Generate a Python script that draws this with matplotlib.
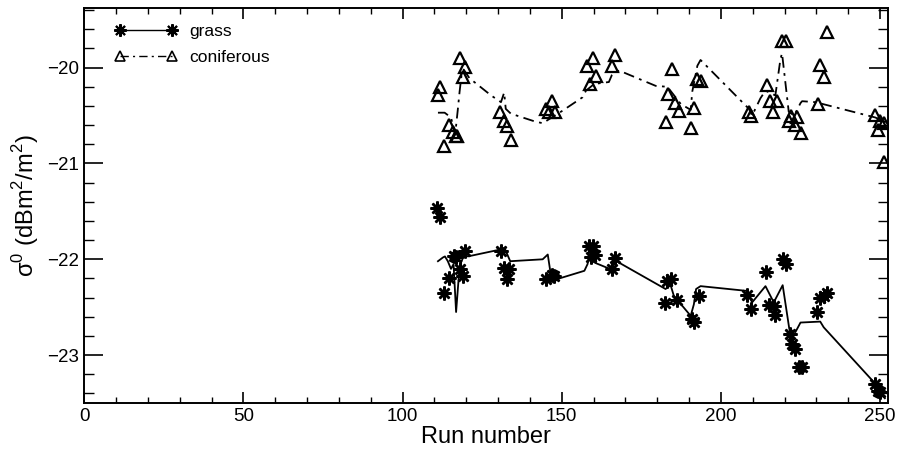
import matplotlib
matplotlib.use("Agg")
import matplotlib.pyplot as plt
from matplotlib.ticker import MultipleLocator

plt.rcParams['font.family'] = ['Liberation Sans', 'DejaVu Sans']

# grass measurements (asterisks)
grass_x = [110.9, 111.9, 113.0, 114.7, 116.1, 116.8, 117.9, 118.9, 119.6,
           130.9, 131.9, 132.8, 133.5, 145.0, 146.9, 147.6, 158.6, 159.1,
           159.8, 160.5, 165.7, 166.8, 182.4, 183.2, 184.2, 186.3, 191.0,
           191.5, 193.1, 208.2, 209.6, 214.2, 215.0, 216.6, 217.1, 219.4,
           220.3, 221.8, 222.3, 223.2, 224.6, 225.4, 230.2, 231.2, 232.3,
           233.3, 248.3, 249.5, 250.0]
grass_y = [-21.46, -21.56, -22.35, -22.19, -21.97, -21.98, -22.10, -22.17, -21.91,
           -21.91, -22.09, -22.21, -22.10, -22.21, -22.16, -22.17, -21.86, -21.98,
           -21.86, -21.95, -22.10, -21.99, -22.46, -22.23, -22.21, -22.42, -22.62,
           -22.65, -22.38, -22.37, -22.52, -22.13, -22.48, -22.49, -22.58, -22.00,
           -22.05, -22.78, -22.88, -22.94, -23.12, -23.12, -22.55, -22.40, -22.38,
           -22.35, -23.30, -23.37, -23.39]

# grass fitted curve
grass_fit_x = [111.1, 112.7, 113.3, 114.2, 115.2, 116.0, 116.8, 117.9, 119.4, 120.5,
               130.4, 132.0, 133.8, 144.0, 145.6, 146.6, 149.2, 157.1, 158.1, 158.4,
               160.7, 165.1, 166.1, 167.2, 182.6, 184.2, 185.2, 190.5, 191.5, 192.2,
               193.6, 208.2, 209.8, 214.0, 216.6, 219.4, 221.5, 223.4, 225.0, 231.2,
               232.3, 248.0, 250.0, 251.5]
grass_fit_y = [-22.02, -21.98, -21.97, -22.02, -22.10, -22.05, -22.55, -22.07, -21.95, -21.97,
               -21.90, -21.88, -22.02, -22.00, -21.95, -22.17, -22.20, -22.12, -22.05, -22.00,
               -22.04, -22.10, -22.03, -22.02, -22.31, -22.27, -22.38, -22.59, -22.47, -22.31,
               -22.28, -22.33, -22.45, -22.28, -22.45, -22.27, -22.73, -22.76, -22.66, -22.65,
               -22.71, -23.28, -23.40, -23.45]

# coniferous measurements (triangles)
con_x = [111.1, 111.6, 112.9, 114.7, 115.8, 116.8, 117.2, 117.9, 118.9, 119.6,
         130.7, 131.8, 132.8, 134.0, 145.0, 146.1, 146.9, 148.0, 157.8, 158.8,
         159.7, 160.7, 165.7, 166.8, 182.7, 183.4, 184.7, 185.5, 186.8, 190.7,
         191.5, 192.6, 193.6, 208.8, 209.5, 214.5, 215.5, 216.4, 217.5, 219.2,
         220.3, 221.3, 222.1, 223.4, 223.9, 225.3, 230.5, 231.2, 232.3, 233.3,
         248.3, 249.3, 250.0, 251.1, 251.3]
con_y = [-20.29, -20.20, -20.82, -20.60, -20.67, -20.71, -20.71, -19.90, -20.10, -19.99,
         -20.46, -20.56, -20.61, -20.75, -20.43, -20.46, -20.35, -20.46, -19.98, -20.17,
         -19.90, -20.09, -19.98, -19.87, -20.57, -20.27, -20.01, -20.37, -20.45, -20.63,
         -20.42, -20.12, -20.14, -20.46, -20.50, -20.18, -20.35, -20.46, -20.35, -19.72,
         -19.72, -20.56, -20.50, -20.60, -20.51, -20.68, -20.38, -19.97, -20.10, -19.63,
         -20.49, -20.65, -20.56, -20.58, -20.98]

# coniferous fitted curve
con_fit_x = [111.1, 113.2, 115.2, 116.5, 117.3, 117.9, 118.5, 119.2, 121.0, 127.8,
             130.9, 131.9, 132.4, 134.0, 141.4, 144.0, 150.2, 156.5, 157.6, 160.2,
             164.8, 165.7, 168.0, 179.5, 183.2, 187.4, 190.5, 191.0, 192.6, 193.6,
             208.8, 209.8, 212.4, 214.0, 217.1, 218.7, 219.2, 221.3, 223.0, 225.0,
             225.5, 229.7, 248.5, 251.1, 252.5]
con_fit_y = [-20.47, -20.47, -20.52, -20.70, -20.45, -20.25, -20.08, -20.02, -20.11, -20.29,
             -20.36, -20.26, -20.43, -20.48, -20.56, -20.58, -20.45, -20.31, -20.24, -20.17,
             -20.15, -20.08, -20.03, -20.19, -20.20, -20.38, -20.44, -20.25, -19.98, -19.92,
             -20.43, -20.50, -20.32, -20.24, -20.29, -19.91, -19.85, -20.46, -20.50, -20.37,
             -20.35, -20.36, -20.52, -20.56, -20.57]

asterisk = (8, 2, 0)
dashdot = (0, (6, 3, 1.5, 3))

fig = plt.figure(figsize=(8.97, 4.58), dpi=100)
ax = fig.add_axes([0.094, 0.12, 0.896, 0.862])

ax.plot(grass_fit_x, grass_fit_y, color='black', lw=1.3, ls='-')
ax.plot(grass_x, grass_y, ls='none', marker=asterisk, ms=10, mew=1.8,
        color='black')
ax.plot(con_fit_x, con_fit_y, color='black', lw=1.3, ls=dashdot)
ax.plot(con_x, con_y, ls='none', marker='^', ms=9, mew=1.6,
        mfc='none', mec='black')

# legend proxies
h1, = ax.plot([], [], color='black', lw=1.0, ls='-', marker=asterisk,
              ms=9, mew=1.5)
h2, = ax.plot([], [], color='black', lw=1.0, ls=dashdot, marker='^',
              ms=7, mew=1.2, mfc='none', mec='black')
ax.legend([h1, h2], ['grass', 'coniferous'], loc='upper left', frameon=False,
          numpoints=2, handlelength=3.6, fontsize=12.5, borderaxespad=0.5,
          labelspacing=0.6, handletextpad=0.7, bbox_to_anchor=(0.018, 1.0))

ax.set_xlim(0, 252.5)
ax.set_ylim(-23.5, -19.38)
ax.xaxis.set_major_locator(MultipleLocator(50))
ax.xaxis.set_minor_locator(MultipleLocator(10))
ax.yaxis.set_major_locator(MultipleLocator(1))
ax.yaxis.set_minor_locator(MultipleLocator(0.2))
ax.tick_params(axis='both', which='both', direction='in', top=True, right=True,
               labelsize=13.5)
ax.tick_params(axis='y', which='major', length=14, width=1.2)
ax.tick_params(axis='y', which='minor', length=7, width=1.0)
ax.tick_params(axis='x', which='major', length=8, width=1.2)
ax.tick_params(axis='x', which='minor', length=4, width=1.0)
for sp in ax.spines.values():
    sp.set_linewidth(1.4)

ax.set_xlabel('Run number', fontsize=17, labelpad=1)
ax.set_ylabel(r'σ$^{\mathregular{0}}$ (dBm$^{\mathregular{2}}$/m$^{\mathregular{2}}$)',
              fontsize=17, labelpad=5)

fig.savefig('out.png', dpi=100)
